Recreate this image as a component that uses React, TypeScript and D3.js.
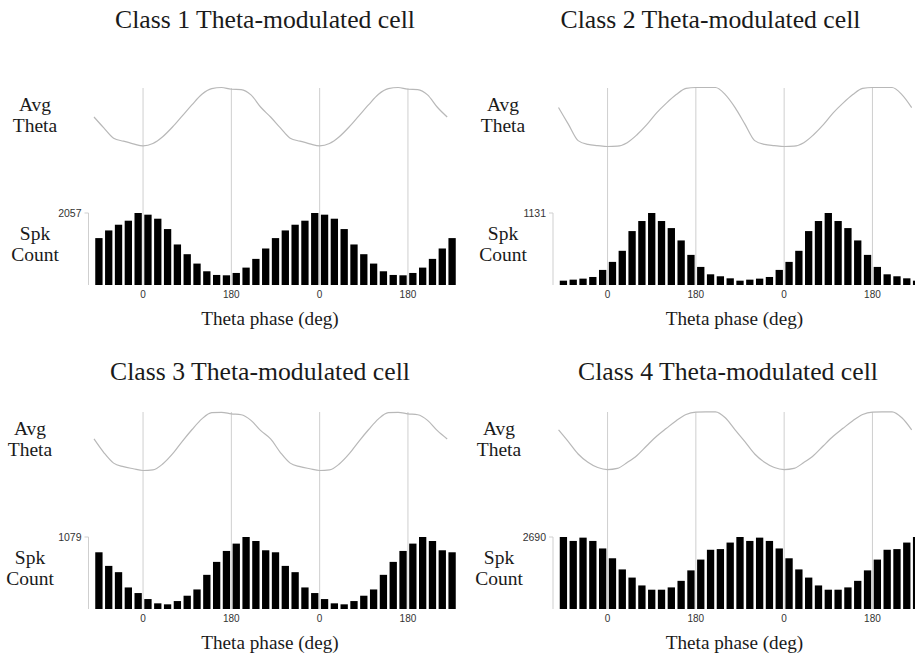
import React, { useRef, useEffect } from "react";
import * as d3 from "d3";

// spike counts per 20 deg theta-phase bin (0-20, 20-40, ... 340-360)
const CLASS1 = [2009, 1894, 1598, 1158, 880, 612, 392, 287, 277, 344, 497, 746, 1043, 1340, 1559, 1722, 1837, 2057];
const CLASS2 = [363, 537, 847, 1005, 1131, 1005, 894, 700, 473, 284, 168, 137, 105, 68, 84, 100, 126, 237];
const CLASS3 = [149, 85, 70, 119, 199, 293, 512, 706, 870, 980, 1079, 1019, 880, 850, 646, 552, 323, 239];
const CLASS4 = [1895, 1479, 1174, 880, 721, 721, 807, 1052, 1443, 1846, 2213, 2238, 2482, 2690, 2543, 2666, 2543, 2262];

// average theta waveform (normalised), sampled at 0, 20, ... 340 deg
const THETA1 = [-0.98, -0.9, -0.67, -0.34, 0.04, 0.42, 0.77, 0.96, 1.0, 0.94, 0.93, 0.75, 0.33, 0.0, -0.37, -0.72, -0.82, -0.91];
const THETA2 = [-1.0, -0.99, -0.87, -0.6, -0.26, 0.14, 0.47, 0.76, 0.97, 1.0, 1.0, 1.0, 0.76, 0.32, -0.24, -0.8, -0.93, -0.97];
const THETA3 = [-1.0, -0.98, -0.78, -0.44, -0.01, 0.39, 0.75, 0.96, 0.97, 0.92, 0.89, 0.7, 0.35, 0.07, -0.39, -0.75, -0.87, -0.94];
const THETA4 = [-0.97, -0.93, -0.73, -0.49, -0.16, 0.16, 0.43, 0.69, 0.9, 0.98, 0.99, 0.99, 0.79, 0.38, -0.02, -0.44, -0.72, -0.9];

const TITLES = [
  "Class 1 Theta-modulated cell",
  "Class 2 Theta-modulated cell",
  "Class 3 Theta-modulated cell",
  "Class 4 Theta-modulated cell",
];
const TICK_PHASES = [0, 180, 360, 540];
const BIN = 20;
const PHASE_MIN = -100;
const PHASE_MAX = 640;
const CURVE_MAX = 620;

const COUNTS = [CLASS1, CLASS2, CLASS3, CLASS4];
const THETAS = [THETA1, THETA2, THETA3, THETA4];

// panel placement
const panels = [
  { dx: 0, dy: 0, titleX: 265, titleY: 28, labelX: 35 },
  { dx: 464.5, dy: 0, titleX: 710.5, titleY: 28, labelX: 503 },
  { dx: 0, dy: 324, titleX: 260, titleY: 380, labelX: 30 },
  { dx: 464.5, dy: 324, titleX: 728, titleY: 380, labelX: 499 },
];

const wrap = (phase: number) => (((phase % 360) + 360) % 360) / BIN;

const App = () => {
  const ref = useRef<SVGSVGElement>(null);

  useEffect(() => {
    const svg = d3.select(ref.current);
    svg.selectAll("*").remove();
    svg.append("rect").attr("width", 915).attr("height", 658).attr("fill", "#fff");

    panels.forEach((p, k) => {
      const counts = COUNTS[k];
      const theta = THETAS[k];
      const g = svg.append("g");

      const x = d3
        .scaleLinear()
        .domain([PHASE_MIN, PHASE_MAX])
        .range([94 + p.dx, 94 + p.dx + 363]);
      const maxCount = d3.max(counts) as number;
      const y = d3
        .scaleLinear()
        .domain([0, maxCount])
        .range([285 + p.dy, 213 + p.dy]);
      const yTheta = d3
        .scaleLinear()
        .domain([-1, 1])
        .range([146.5 + p.dy, 87.5 + p.dy]);

      g.append("text")
        .attr("x", p.titleX)
        .attr("y", p.titleY)
        .attr("text-anchor", "middle")
        .style("font-family", "'Liberation Serif', 'Times New Roman', serif")
        .style("font-size", "25.7px")
        .attr("fill", "#1a1a1a")
        .text(TITLES[k]);

      // phase reference lines
      g.selectAll(".vline")
        .data(TICK_PHASES)
        .enter()
        .append("line")
        .attr("x1", (d) => x(d))
        .attr("x2", (d) => x(d))
        .attr("y1", 88 + p.dy)
        .attr("y2", y(0))
        .attr("stroke", "#cfcfcf")
        .attr("stroke-width", 1);

      // avg theta trace
      const phases = d3.range(PHASE_MIN, CURVE_MAX + 1, BIN);
      const line = d3
        .line<number>()
        .x((d) => x(d))
        .y((d) => yTheta(theta[wrap(d)]))
        .curve(d3.curveMonotoneX);
      g.append("path")
        .attr("d", line(phases))
        .attr("fill", "none")
        .attr("stroke", "#b8b8b8")
        .attr("stroke-width", 1.2);

      // spike count histogram, two cycles
      const bins = d3.range(PHASE_MIN, PHASE_MAX, BIN);
      g.selectAll(".bar")
        .data(bins)
        .enter()
        .append("rect")
        .attr("x", (d) => x(d) + 1.25)
        .attr("width", (d) => x(d + BIN) - x(d) - 2.5)
        .attr("y", (d) => y(counts[wrap(d)]))
        .attr("height", (d) => y(0) - y(counts[wrap(d)]))
        .attr("fill", "#000");

      // y axis with max label
      const ax = x(PHASE_MIN) - 5.5;
      g.append("line")
        .attr("x1", ax)
        .attr("x2", ax)
        .attr("y1", y(maxCount))
        .attr("y2", y(0))
        .attr("stroke", "#cfcfcf");
      g.append("line")
        .attr("x1", ax - 4)
        .attr("x2", ax)
        .attr("y1", y(maxCount))
        .attr("y2", y(maxCount))
        .attr("stroke", "#cfcfcf");
      g.append("text")
        .attr("x", ax - 7)
        .attr("y", y(maxCount) + 3.5)
        .attr("text-anchor", "end")
        .style("font-family", "'Liberation Sans', Arial, sans-serif")
        .style("font-size", "10.5px")
        .attr("fill", "#333")
        .text(maxCount);

      g.selectAll(".tick")
        .data(TICK_PHASES)
        .enter()
        .append("text")
        .attr("x", (d) => x(d))
        .attr("y", 297.5 + p.dy)
        .attr("text-anchor", "middle")
        .style("font-family", "'Liberation Sans', Arial, sans-serif")
        .style("font-size", "10px")
        .attr("fill", "#333")
        .text((d) => d % 360);

      g.append("text")
        .attr("x", 94 + p.dx + 176)
        .attr("y", 325 + p.dy)
        .attr("text-anchor", "middle")
        .style("font-family", "'Liberation Serif', 'Times New Roman', serif")
        .style("font-size", "19.2px")
        .attr("fill", "#1a1a1a")
        .text("Theta phase (deg)");

      const side = [
        ["Avg", 111],
        ["Theta", 132],
        ["Spk", 240],
        ["Count", 261],
      ];
      g.selectAll(".side")
        .data(side)
        .enter()
        .append("text")
        .attr("x", p.labelX)
        .attr("y", (d) => (d[1] as number) + p.dy)
        .attr("text-anchor", "middle")
        .style("font-family", "'Liberation Serif', 'Times New Roman', serif")
        .style("font-size", "19.5px")
        .attr("fill", "#1a1a1a")
        .text((d) => d[0]);
    });
  }, []);

  return (
    <svg
      ref={ref}
      width={915}
      height={658}
      style={{ position: "absolute", left: 0, top: 0 }}
    ></svg>
  );
};

export default App;
